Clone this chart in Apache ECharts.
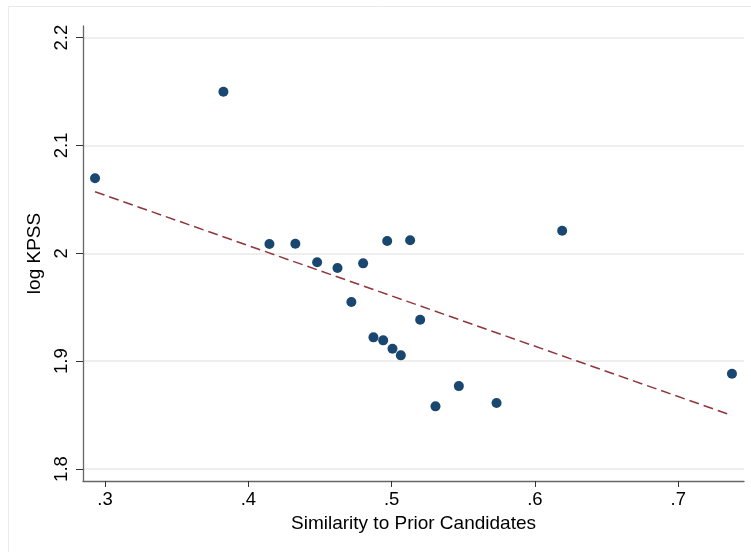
<!DOCTYPE html>
<html>
<head>
<meta charset="utf-8">
<script src="https://cdn.jsdelivr.net/npm/echarts@6/dist/echarts.min.js"></script>
<style>
html,body{margin:0;padding:0;background:#fff;}
#chart{width:751px;height:552px;}
</style>
</head>
<body>
<div id="chart"></div>
<script>
// Data
var similarity = [0.2930, 0.3826, 0.4147, 0.4328, 0.4480, 0.4622, 0.4801, 0.4969, 0.5129, 0.4719,
                  0.5199, 0.4873, 0.4941, 0.5006, 0.5064, 0.5469, 0.5306, 0.5732, 0.6190, 0.7375];
var logKPSS    = [2.0696, 2.1499, 2.0086, 2.0089, 1.9917, 1.9864, 1.9907, 2.0114, 2.0121, 1.9548,
                  1.9384, 1.9221, 1.9193, 1.9115, 1.9054, 1.8769, 1.8581, 1.8612, 2.0210, 1.8883];
var fitX = [0.2930, 0.7375];
var fitY = [2.0571, 1.8497];
var xTicks = [0.3, 0.4, 0.5, 0.6, 0.7];
var yTicks = [1.8, 1.9, 2.0, 2.1, 2.2];
var xRange = [0.2846, 0.7459];
var yRange = [1.7889, 2.2108];

var FONT = '"Liberation Sans", Arial, sans-serif';
var scatterData = similarity.map(function (v, i) { return [v, logKPSS[i]]; });
var fitData = fitX.map(function (v, i) { return [v, fitY[i]]; });

var chart = echarts.init(document.getElementById('chart'), null, {renderer: 'canvas'});
chart.setOption({
  backgroundColor: '#ffffff',
  animation: false,
  graphic: [{
    type: 'rect', silent: true, z: -1,
    shape: {x: 8.5, y: 6.5, width: 760, height: 560},
    style: {fill: 'none', stroke: '#eaeaea', lineWidth: 1}
  }],
  grid: {left: 83, right: 7, top: 26, bottom: 71, containLabel: false},
  xAxis: {
    type: 'value',
    min: xRange[0], max: xRange[1],
    name: 'Similarity to Prior Candidates',
    nameLocation: 'middle', nameGap: 28,
    nameTextStyle: {fontFamily: FONT, fontSize: 19, color: '#000'},
    axisLine: {show: true, onZero: false, lineStyle: {color: '#666', width: 1.3}},
    axisTick: {show: true, length: 6, customValues: xTicks, lineStyle: {color: '#333', width: 1}},
    axisLabel: {show: true, customValues: xTicks, margin: 9, fontFamily: FONT, fontSize: 18.5, color: '#000',
      formatter: function (v) { return String(Math.round(v * 10) / 10).replace(/^0/, ''); }},
    splitLine: {show: false}
  },
  yAxis: {
    type: 'value',
    min: yRange[0], max: yRange[1],
    name: 'log KPSS',
    nameLocation: 'middle', nameGap: 30,
    nameTextStyle: {fontFamily: FONT, fontSize: 19, color: '#000'},
    axisLine: {show: true, onZero: false, lineStyle: {color: '#666', width: 1.3}},
    axisTick: {show: true, length: 7, customValues: yTicks, lineStyle: {color: '#333', width: 1}},
    axisLabel: {show: true, customValues: yTicks, rotate: 90, margin: 12, fontFamily: FONT, fontSize: 18.5, color: '#000',
      formatter: function (v) { return String(Math.round(v * 10) / 10); }},
    splitLine: {show: true, customValues: yTicks, lineStyle: {color: '#e8e8e8', width: 1.5}}
  },
  series: [
    {
      type: 'scatter',
      data: scatterData,
      symbol: 'circle',
      symbolSize: 10,
      itemStyle: {color: '#1a476f', opacity: 1},
      z: 3
    },
    {
      type: 'line',
      data: fitData,
      showSymbol: false,
      symbol: 'none',
      lineStyle: {color: '#90353b', width: 1.5, type: [10, 5]},
      z: 2
    }
  ]
});
</script>
</body>
</html>
